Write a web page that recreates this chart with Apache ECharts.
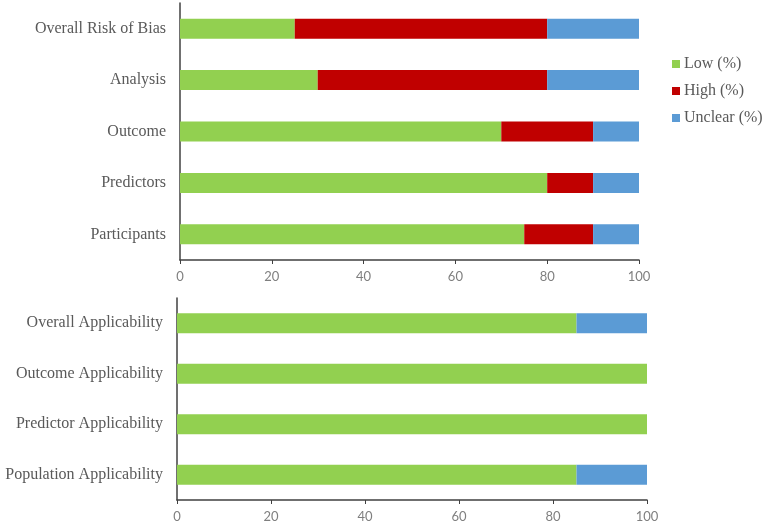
<!DOCTYPE html>
<html>
<head>
<meta charset="utf-8">
<script src="https://cdn.jsdelivr.net/npm/echarts@6/dist/echarts.min.js"></script>
<style>
  html, body { margin: 0; padding: 0; background: #fff; }
  #chart { width: 767px; height: 525px; }
</style>
</head>
<body>
<div id="chart"></div>
<script>
// risk of bias domains (top panel)
const biasDomains = ['Overall Risk of Bias', 'Analysis', 'Outcome', 'Predictors', 'Participants'];
const biasLow = [25, 30, 70, 80, 75];
const biasHigh = [55, 50, 20, 10, 15];
const biasUnclear = [20, 20, 10, 10, 10];

// applicability domains (bottom panel)
const applDomains = ['Overall Applicability', 'Outcome Applicability', 'Predictor Applicability', 'Population Applicability'];
const applLow = [85, 100, 100, 85];
const applHigh = [0, 0, 0, 0];
const applUnclear = [15, 0, 0, 15];

const xTicks = [0, 20, 40, 60, 80, 100];

const colors = { low: '#92D050', high: '#C00000', unclear: '#5B9BD5' };
const serif = '"Liberation Serif", "Times New Roman", serif';

const chart = echarts.init(document.getElementById('chart'));

function xAxisFor(gridIndex) {
    return {
        type: 'value',
        gridIndex: gridIndex,
        min: xTicks[0],
        max: xTicks[xTicks.length - 1],
        interval: 20,
        axisLine: { show: true, lineStyle: { color: '#404040', width: 1.5 } },
        axisTick: { show: true, length: 4, lineStyle: { color: '#404040' } },
        axisLabel: { color: '#7f7f7f', fontSize: 13, fontFamily: 'Lato, "Open Sans", sans-serif', margin: 10 },
        splitLine: { show: false }
    };
}

function yAxisFor(gridIndex, cats) {
    return {
        type: 'category',
        gridIndex: gridIndex,
        data: cats,
        inverse: true,
        axisLine: { show: true, lineStyle: { color: '#404040', width: 1.5 } },
        axisTick: { show: false },
        axisLabel: { color: '#595959', fontSize: 16, fontFamily: serif, margin: 14 }
    };
}

function barSeries(name, data, color, idx) {
    return {
        name: name,
        type: 'bar',
        stack: 'total' + idx,
        xAxisIndex: idx,
        yAxisIndex: idx,
        data: data,
        barWidth: 20,
        itemStyle: { color: color },
        emphasis: { disabled: true }
    };
}

const option = {
    animation: false,
    legend: {
        orient: 'vertical',
        left: 667,
        top: 51,
        itemWidth: 8,
        itemHeight: 8,
        itemGap: 11,
        icon: 'rect',
        data: ['Low (%)', 'High (%)', 'Unclear (%)'],
        textStyle: { color: '#595959', fontSize: 16, fontFamily: serif, padding: [0, 0, 0, -1] }
    },
    grid: [
        { left: 180, width: 459, top: 3, height: 257 },
        { left: 177, width: 470, top: 298, height: 202 }
    ],
    xAxis: [xAxisFor(0), xAxisFor(1)],
    yAxis: [yAxisFor(0, biasDomains), yAxisFor(1, applDomains)],
    series: [
        barSeries('Low (%)', biasLow, colors.low, 0),
        barSeries('High (%)', biasHigh, colors.high, 0),
        barSeries('Unclear (%)', biasUnclear, colors.unclear, 0),
        barSeries('Low (%)', applLow, colors.low, 1),
        barSeries('High (%)', applHigh, colors.high, 1),
        barSeries('Unclear (%)', applUnclear, colors.unclear, 1)
    ]
};

chart.setOption(option);
</script>
</body>
</html>
